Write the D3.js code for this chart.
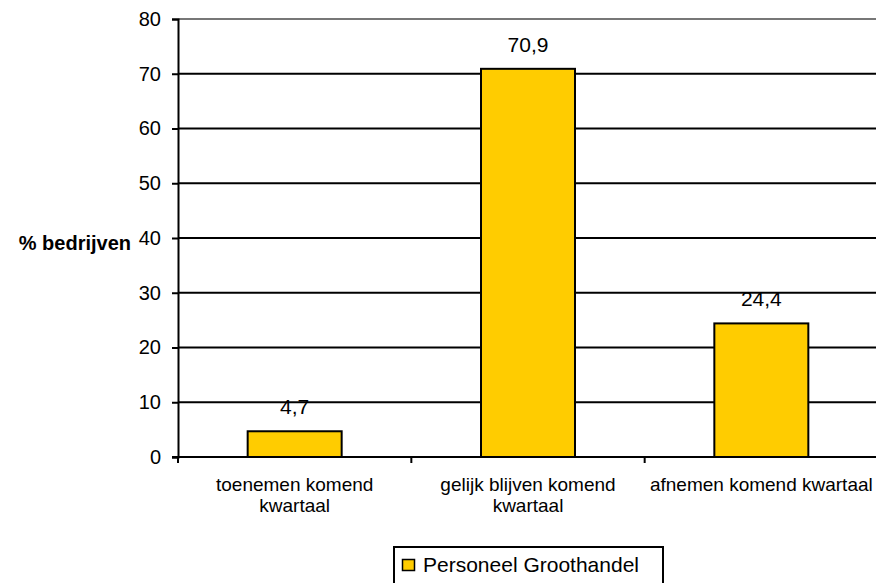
<!DOCTYPE html>
<html>
<head>
<meta charset="utf-8">
<script src="https://cdn.jsdelivr.net/npm/d3@7"></script>
<style>
  body { margin: 0; background: #fff; }
  svg { display: block; font-family: Arial, "Liberation Sans", sans-serif; }
</style>
</head>
<body>
<svg id="chart" width="876" height="583"></svg>
<script>
// Chart data
const categories = [
  ["toenemen komend", "kwartaal"],
  ["gelijk blijven komend", "kwartaal"],
  ["afnemen komend kwartaal"]
];
const values = [4.7, 70.9, 24.4];
const valueLabels = ["4,7", "70,9", "24,4"];
const yTicks = [0, 10, 20, 30, 40, 50, 60, 70, 80];
const seriesName = "Personeel Groothandel";
const yTitle = "% bedrijven";

(function draw() {
  const svg = d3.select("#chart");
  const plotLeft = 178, plotRight = 878, plotTop = 19, plotBottom = 457;

  const x = d3.scaleBand().domain(d3.range(categories.length)).range([plotLeft, plotRight]);
  const y = d3.scaleLinear().domain([0, 80]).range([plotBottom, plotTop]);
  const barW = 94;

  // Gridlines
  svg.append("g").selectAll("line").data(yTicks.filter(t => t > 0)).join("line")
    .attr("x1", plotLeft).attr("x2", 876)
    .attr("y1", d => y(d)).attr("y2", d => y(d))
    .attr("stroke", d => d === 80 ? "#777" : "#000")
    .attr("stroke-width", 2);

  // Bars
  svg.append("g").selectAll("rect").data(values).join("rect")
    .attr("x", (d, i) => x(i) + (x.bandwidth() - barW) / 2)
    .attr("width", barW)
    .attr("y", d => y(d))
    .attr("height", d => y(0) - y(d))
    .attr("fill", "#ffcc00")
    .attr("stroke", "#000")
    .attr("stroke-width", 2);

  // Value labels
  svg.append("g").selectAll("text").data(values).join("text")
    .attr("x", (d, i) => x(i) + x.bandwidth() / 2)
    .attr("y", d => y(d) - 17)
    .attr("text-anchor", "middle")
    .attr("font-size", 21)
    .attr("fill", "#000")
    .text((d, i) => valueLabels[i]);

  // Y axis
  const yAxis = d3.axisLeft(y).tickValues(yTicks).tickSize(6).tickPadding(11);
  const gy = svg.append("g").attr("transform", `translate(${plotLeft},0)`).call(yAxis);
  gy.select(".domain").attr("stroke", "#000").attr("stroke-width", 2);
  gy.selectAll(".tick line").attr("stroke", "#000").attr("stroke-width", 2);
  gy.selectAll(".tick text").attr("font-size", 20).attr("fill", "#000")
    .attr("font-family", "Arial, 'Liberation Sans', sans-serif");

  // X axis baseline and category ticks
  svg.append("line").attr("x1", plotLeft - 6).attr("x2", 876)
    .attr("y1", y(0)).attr("y2", y(0)).attr("stroke", "#000").attr("stroke-width", 2);
  svg.append("g").selectAll("line").data(d3.range(categories.length + 1)).join("line")
    .attr("x1", i => plotLeft + i * x.bandwidth()).attr("x2", i => plotLeft + i * x.bandwidth())
    .attr("y1", y(0)).attr("y2", y(0) + 6)
    .attr("stroke", "#000").attr("stroke-width", 2);

  // Category labels
  const cat = svg.append("g").selectAll("text").data(categories).join("text")
    .attr("text-anchor", "middle")
    .attr("font-size", 19)
    .attr("fill", "#000");
  cat.each(function(lines, i) {
    d3.select(this).selectAll("tspan").data(lines).join("tspan")
      .attr("x", x(i) + x.bandwidth() / 2)
      .attr("y", (d, j) => 491 + j * 21)
      .text(d => d);
  });

  // Y axis title
  svg.append("text").attr("x", 131).attr("y", 250)
    .attr("text-anchor", "end")
    .attr("font-size", 20).attr("font-weight", "bold").attr("fill", "#000")
    .text(yTitle);

  // Legend
  const lg = svg.append("g");
  lg.append("rect").attr("x", 394).attr("y", 547).attr("width", 269).attr("height", 40)
    .attr("fill", "#fff").attr("stroke", "#000").attr("stroke-width", 2);
  lg.append("rect").attr("x", 402.5).attr("y", 559.5).attr("width", 12).attr("height", 11)
    .attr("fill", "#ffcc00").attr("stroke", "#000").attr("stroke-width", 1.5);
  lg.append("text").attr("x", 423).attr("y", 572)
    .attr("font-size", 21).attr("fill", "#000").text(seriesName);
})();
</script>
</body>
</html>
